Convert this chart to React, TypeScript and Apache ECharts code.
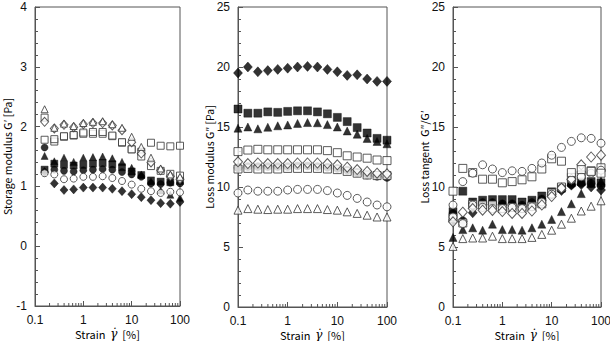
import React, { useEffect, useRef } from "react";
import * as echarts from "echarts";

// Strain values (%) of the sweep
const STRAIN_G1 = [0.158, 0.251, 0.398, 0.631, 1, 1.58, 2.51, 3.98, 6.31, 10, 15.8, 25.1, 39.8, 63.1, 100];
const STRAIN = [0.1, 0.158, 0.251, 0.398, 0.631, 1, 1.58, 2.51, 3.98, 6.31, 10, 15.8, 25.1, 39.8, 63.1, 100];

// Storage modulus G' [Pa]
const gpOpenTriangle = [2.29, 1.98, 2.05, 2.01, 2.06, 2.08, 2.09, 2.04, 1.98, 1.83, 1.66, 1.48, 1.3, 1.2, 1.16];
const gpOpenDiamond = [2.08, 1.97, 2.03, 1.99, 2.04, 2.06, 2.06, 2.02, 1.94, 1.74, 1.55, 1.4, 1.27, 1.17, 1.12];
const gpOpenSquareA = [2.15, 1.79, 1.84, 1.86, 1.9, 1.91, 1.91, 1.85, 1.74, 1.62, 1.5, 1.34, 1.26, 1.21, 1.18];
const gpOpenSquareB = [1.78, 1.75, 1.83, 1.85, 1.88, 1.88, 1.88, 1.84, 1.73, 1.62, 1.58, 1.73, 1.68, 1.67, 1.68];
const gpOpenCircle = [1.22, 1.2, 1.12, 1.13, 1.16, 1.16, 1.17, 1.14, 1.09, 1.03, 0.96, 0.92, 0.89, 0.91, 0.9];
const gpFilledCircle = [1.65, 1.28, 1.26, 1.25, 1.27, 1.28, 1.29, 1.28, 1.24, 1.2, 1.16, 1.05, 1.04, 1.06, 1.05];
const gpFilledTriangle = [1.51, 1.42, 1.48, 1.41, 1.48, 1.49, 1.5, 1.47, 1.41, 1.31, 1.2, 1.08, 0.93, 0.86, 0.81];
const gpFilledSquare = [1.28, 1.38, 1.36, 1.35, 1.36, 1.38, 1.39, 1.37, 1.32, 1.25, 1.19, 1.1, 1.08, 1.07, 1.09];
const gpFilledDiamond = [1.24, 1.05, 0.94, 0.95, 0.98, 0.98, 0.98, 0.96, 0.92, 0.87, 0.82, 0.77, 0.72, 0.71, 0.74];

// Loss modulus G'' [Pa]
const lmFilledDiamond = [19.5, 20.0, 19.6, 19.7, 19.8, 19.9, 20.0, 20.05, 20.0, 19.8, 19.6, 19.3, 19.35, 19.0, 18.8, 18.8];
const lmFilledSquare = [16.5, 16.15, 16.15, 16.26, 16.22, 16.3, 16.35, 16.35, 16.26, 16.1, 15.8, 15.45, 14.95, 14.5, 14.05, 13.9];
const lmFilledTriangle = [14.9, 15.0, 14.85, 14.98, 15.1, 15.17, 15.3, 15.37, 15.35, 15.2, 15.0, 14.67, 14.4, 14.05, 13.8, 13.6];
const lmOpenSquareA = [12.95, 13.08, 13.14, 13.1, 13.1, 13.1, 13.1, 13.1, 13.1, 13.03, 12.86, 12.6, 12.5, 12.4, 12.25, 12.2];
const lmOpenDiamond = [12.1, 11.95, 12.0, 11.95, 11.95, 11.95, 12.0, 12.0, 12.0, 11.95, 11.85, 11.65, 11.45, 11.3, 11.15, 11.1];
const lmFilledCircle = [11.6, 11.7, 11.7, 11.7, 11.7, 11.7, 11.75, 11.75, 11.7, 11.65, 11.55, 11.4, 11.2, 11.0, 10.9, 10.8];
const lmOpenSquareB = [11.5, 11.55, 11.5, 11.5, 11.5, 11.55, 11.55, 11.55, 11.55, 11.5, 11.45, 11.3, 11.15, 11.0, 10.95, 10.95];
const lmOpenCircle = [9.5, 9.75, 9.65, 9.65, 9.65, 9.75, 9.8, 9.8, 9.8, 9.7, 9.5, 9.3, 9.05, 8.75, 8.5, 8.35];
const lmOpenTriangle = [8.07, 8.2, 8.15, 8.12, 8.15, 8.15, 8.2, 8.2, 8.2, 8.12, 8.07, 7.93, 7.8, 7.65, 7.5, 7.5];

// Loss tangent G''/G'
const ltOpenCircleA = [8.5, 10.45, 11.15, 11.85, 11.5, 11.2, 11.35, 11.3, 11.55, 12.0, 12.65, 13.3, 13.8, 14.1, 14.05, 13.65];
const ltOpenSquareA = [9.65, 11.55, 11.2, 10.65, 10.65, 10.35, 10.45, 10.6, 10.85, 11.5, 12.35, 12.15, 11.2, 11.45, 11.3, 11.15];
const ltFilledSquare = [7.95, 9.65, 8.75, 8.9, 8.95, 8.95, 8.95, 8.75, 8.9, 9.25, 9.6, 9.9, 10.35, 10.45, 10.45, 10.35];
const ltOpenDiamond = [7.1, 7.9, 8.2, 8.07, 8.05, 7.95, 7.8, 7.8, 8.0, 8.5, 9.2, 9.9, 10.65, 11.85, 12.5, 12.65];
const ltOpenCircleB = [7.5, 6.95, 8.5, 8.3, 8.2, 8.2, 8.3, 8.2, 8.35, 8.75, 9.4, 9.9, 10.6, 10.85, 11.15, 11.4];
const ltFilledDiamond = [7.25, 7.1, 7.85, 8.5, 8.55, 8.5, 8.5, 8.35, 8.5, 8.9, 9.4, 9.7, 10.15, 10.2, 10.0, 9.75];
const ltFilledCircle = [7.8, 7.2, 8.6, 8.7, 8.7, 8.6, 8.6, 8.5, 8.7, 9.0, 9.45, 9.8, 10.2, 10.3, 10.3, 10.1];
const ltFilledTriangle = [5.8, 6.45, 6.6, 6.4, 6.9, 6.45, 6.45, 6.4, 6.6, 6.9, 7.3, 7.95, 8.6, 9.45, 10.3, 10.5];
const ltOpenTriangle = [5.05, 5.7, 5.75, 5.75, 5.9, 5.7, 5.7, 5.7, 5.8, 6.05, 6.4, 6.9, 7.4, 8.0, 8.4, 8.85];
const ltOpenSquareB = [7.4, 7.0, 8.55, 8.5, 8.5, 8.2, 8.3, 8.2, 8.4, 8.6, 9.5, 10.0, 10.8, 11.0, 11.35, 11.6];

// Axis ranges and tick labels
const X_TICKS = [0.1, 1, 10, 100];
const Y_RANGES = [
  { min: -1, max: 4, interval: 1 },
  { min: 0, max: 25, interval: 5 },
  { min: 0, max: 25, interval: 5 },
];
const Y_NAMES = ["Storage modulus G′ [Pa]", "Loss modulus G″ [Pa]", "Loss tangent  G″/G′"];

const AXIS_COLOR = "#555";
const TEXT_COLOR = "#111";
const LABEL_FONT = "'Liberation Sans', Arial, sans-serif";
const NAME_FONT = "'Noto Sans CJK JP', 'Noto Sans', sans-serif";

type Shape = "circle" | "rect" | "triangle" | "diamond";

function marker(name: string, gi: number, xs: number[], ys: number[], shape: Shape, filled: boolean, size: number) {
  const sz = shape === "diamond" ? [size + 1, size + 2] : size;
  return {
    name,
    type: "scatter",
    xAxisIndex: gi,
    yAxisIndex: gi,
    symbol: shape,
    symbolSize: sz,
    z: filled ? 3 : 4,
    itemStyle: filled
      ? { color: "#000", borderColor: "#000", borderWidth: 0.5 }
      : { color: "#fff", borderColor: "#333", borderWidth: 1 },
    data: xs.map((x, i) => [x, ys[i]]),
  };
}

// minor tick positions of a log axis (2..9 in every decade)
function logMinorTicks(ticks: number[]) {
  const out: number[] = [];
  for (let k = 0; k < ticks.length - 1; k++) {
    for (let m = 2; m <= 9; m++) out.push(+(ticks[k] * m).toPrecision(3));
  }
  return out;
}

function minorTickSeries(gi: number, yMin: number) {
  return {
    type: "custom",
    xAxisIndex: gi,
    yAxisIndex: gi,
    silent: true,
    clip: false,
    z: 2,
    encode: { x: 0, y: 1 },
    data: logMinorTicks(X_TICKS).map((x) => [x, yMin]),
    renderItem: (_p: any, api: any) => {
      const pt = api.coord([api.value(0), api.value(1)]);
      return {
        type: "line",
        shape: { x1: pt[0], y1: pt[1], x2: pt[0], y2: pt[1] - 3 },
        style: { stroke: AXIS_COLOR, lineWidth: 1 },
      };
    },
  };
}

export default function App() {
  const ref = useRef<HTMLDivElement>(null);

  useEffect(() => {
    if (!ref.current) return;
    const chart = echarts.init(ref.current, undefined, { renderer: "svg" });

    const grids = [
      { left: 35, top: 7, width: 145, height: 299 },
      { left: 238, top: 7, width: 149, height: 300 },
      { left: 453, top: 7, width: 148, height: 300 },
    ].map((g) => ({
      ...g,
      show: true,
      borderColor: AXIS_COLOR,
      borderWidth: 1,
      backgroundColor: "transparent",
      outerBoundsMode: "none",
      containLabel: false,
    }));

    const xAxes = grids.map((_g, i) => ({
      type: "log",
      gridIndex: i,
      logBase: 10,
      min: X_TICKS[0],
      max: X_TICKS[X_TICKS.length - 1],
      splitNumber: 3,
      name: "{a|Strain  }{g|γ̇}{a|  [%]}",
      nameLocation: "middle",
      nameGap: 22,
      nameMoveOverlap: false,
      nameTextStyle: {
        rich: {
          a: { fontFamily: NAME_FONT, fontSize: 11, lineHeight: 12, color: "#000" },
          g: { fontFamily: "'DejaVu Serif', serif", fontStyle: "italic", fontSize: 12, lineHeight: 12, color: "#000" },
        },
      },
      axisLine: { show: true, onZero: false, lineStyle: { color: AXIS_COLOR, width: 1 } },
      axisTick: { show: true, inside: true, length: 5, lineStyle: { color: AXIS_COLOR } },
      minorTick: { show: false },
      splitLine: { show: false },
      axisLabel: {
        margin: 8,
        fontSize: 12,
        fontFamily: LABEL_FONT,
        color: TEXT_COLOR,
        formatter: (v: number) => (v < 1 ? v.toFixed(1) : String(Math.round(v))),
      },
    }));

    const yAxes = grids.map((_g, i) => ({
      type: "value",
      gridIndex: i,
      min: Y_RANGES[i].min,
      max: Y_RANGES[i].max,
      interval: Y_RANGES[i].interval,
      name: Y_NAMES[i],
      nameLocation: "middle",
      nameGap: i === 0 ? 22 : 23,
      nameMoveOverlap: false,
      nameTextStyle: { fontFamily: NAME_FONT, fontSize: 10.5, lineHeight: 12, color: "#000" },
      axisLine: { show: true, onZero: false, lineStyle: { color: AXIS_COLOR, width: 1 } },
      axisTick: { show: true, inside: true, length: 5, lineStyle: { color: AXIS_COLOR } },
      minorTick: { show: true, splitNumber: 5, length: 3, lineStyle: { color: AXIS_COLOR } },
      splitLine: { show: false },
      axisLabel: { margin: 8, fontSize: 12, fontFamily: LABEL_FONT, color: TEXT_COLOR },
    }));

    const S1 = 7;
    const S = 8;
    const series: any[] = [
      minorTickSeries(0, Y_RANGES[0].min),
      minorTickSeries(1, Y_RANGES[1].min),
      minorTickSeries(2, Y_RANGES[2].min),

      marker("G' filled diamond", 0, STRAIN_G1, gpFilledDiamond, "diamond", true, S1),
      marker("G' filled square", 0, STRAIN_G1, gpFilledSquare, "rect", true, S1),
      marker("G' filled circle", 0, STRAIN_G1, gpFilledCircle, "circle", true, S1),
      marker("G' filled triangle", 0, STRAIN_G1, gpFilledTriangle, "triangle", true, S1),
      marker("G' open circle", 0, STRAIN_G1, gpOpenCircle, "circle", false, S1),
      marker("G' open square B", 0, STRAIN_G1, gpOpenSquareB, "rect", false, S1),
      marker("G' open square A", 0, STRAIN_G1, gpOpenSquareA, "rect", false, S1),
      marker("G' open diamond", 0, STRAIN_G1, gpOpenDiamond, "diamond", false, S1),
      marker("G' open triangle", 0, STRAIN_G1, gpOpenTriangle, "triangle", false, S1),

      marker("G'' filled diamond", 1, STRAIN, lmFilledDiamond, "diamond", true, S),
      marker("G'' filled square", 1, STRAIN, lmFilledSquare, "rect", true, S),
      marker("G'' filled triangle", 1, STRAIN, lmFilledTriangle, "triangle", true, S),
      marker("G'' filled circle", 1, STRAIN, lmFilledCircle, "circle", true, S),
      marker("G'' open square A", 1, STRAIN, lmOpenSquareA, "rect", false, S),
      marker("G'' open square B", 1, STRAIN, lmOpenSquareB, "rect", false, S),
      marker("G'' open diamond", 1, STRAIN, lmOpenDiamond, "diamond", false, S),
      marker("G'' open circle", 1, STRAIN, lmOpenCircle, "circle", false, S),
      marker("G'' open triangle", 1, STRAIN, lmOpenTriangle, "triangle", false, S),

      marker("tan filled square", 2, STRAIN, ltFilledSquare, "rect", true, S),
      marker("tan filled circle", 2, STRAIN, ltFilledCircle, "circle", true, S),
      marker("tan filled diamond", 2, STRAIN, ltFilledDiamond, "diamond", true, S),
      marker("tan filled triangle", 2, STRAIN, ltFilledTriangle, "triangle", true, S),
      marker("tan open square B", 2, STRAIN, ltOpenSquareB, "rect", false, S),
      marker("tan open circle B", 2, STRAIN, ltOpenCircleB, "circle", false, S),
      marker("tan open diamond", 2, STRAIN, ltOpenDiamond, "diamond", false, S),
      marker("tan open square A", 2, STRAIN, ltOpenSquareA, "rect", false, S),
      marker("tan open circle A", 2, STRAIN, ltOpenCircleA, "circle", false, S),
      marker("tan open triangle", 2, STRAIN, ltOpenTriangle, "triangle", false, S),
    ];

    chart.setOption({
      animation: false,
      backgroundColor: "#fff",
      grid: grids,
      xAxis: xAxes,
      yAxis: yAxes,
      series,
    });

    return () => chart.dispose();
  }, []);

  return (
    <div
      ref={ref}
      style={{ position: "fixed", left: 0, top: 0, width: 610, height: 341, background: "#fff" }}
    />
  );
}
